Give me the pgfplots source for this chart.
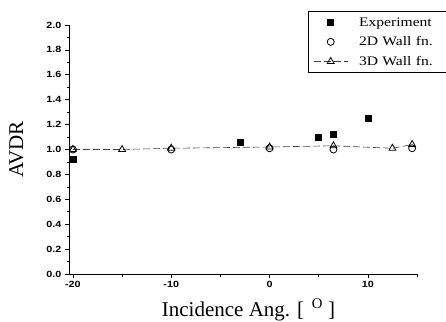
\documentclass[border=0pt]{standalone}
\usepackage{fontspec}
\setmainfont{Liberation Serif}
\newfontfamily\tickfont[FakeStretch=1.2]{Liberation Sans}
\newfontfamily\legfont[FakeStretch=1.2]{Liberation Serif}
\usepackage{pgfplots}
\pgfplotsset{compat=1.18}
\begin{document}
\begin{tikzpicture}
\begin{axis}[
  scale only axis,
  width=348pt, height=249pt,
  xmin=-20.4, xmax=15,
  ymin=0, ymax=2.0,
  axis lines=left,
  axis line style={-, line width=0.9pt},
  clip=false,
  xtick={-20,-10,0,10},
  xticklabels={-20,-10,0,10},
  minor xtick={-15,-5,5,15},
  ytick={0,0.2,0.4,0.6,0.8,1.0,1.2,1.4,1.6,1.8,2.0},
  yticklabels={0.0,0.2,0.4,0.6,0.8,1.0,1.2,1.4,1.6,1.8,2.0},
  minor y tick num=1,
  tick align=outside,
  major tick length=4pt,
  minor tick length=2.5pt,
  tick style={black, line width=0.7pt},
  tick label style={font=\tickfont\bfseries\fontsize{9}{10}\selectfont},
  xlabel={Incidence Ang. [ \textsuperscript{\,O} ]},
  ylabel={AVDR},
  xlabel style={font=\fontsize{21}{24}\selectfont, at={(axis description cs:0.516,-0.145)}, anchor=center},
  ylabel style={font=\fontsize{21}{24}\selectfont, at={(axis description cs:-0.151,0.5)}, anchor=center, rotate=0},
  legend style={at={(axis description cs:0.687,1.056)}, anchor=north west,
    draw=black, line width=0.7pt, fill=white,
    font=\legfont\fontsize{13}{15}\selectfont,
    inner xsep=5pt, inner ysep=4pt, row sep=5pt,
    /tikz/every odd column/.append style={column sep=9pt},
    text width=80pt},
  legend cell align=left,
  legend image code/.code={\draw[mark repeat=2,mark phase=2,#1] plot coordinates {(0pt,0pt)(17pt,0pt)(34pt,0pt)};},
]
\addplot[only marks, mark=square*, mark size=3pt, black] coordinates {
  (-20,0.92) (-3,1.06) (5,1.10) (6.5,1.12) (10,1.25)
};
\addlegendentry{Experiment}
\addplot[only marks, mark=o, mark size=3.5pt, black, mark options={line width=0.8pt}] coordinates {
  (-20,1.00) (-10,1.00) (0,1.01) (6.5,1.00) (14.5,1.01)
};
\addlegendentry{2D Wall fn.}
\addplot[black!75, line width=0.6pt, dash pattern=on 7pt off 3pt, mark=triangle, mark size=4pt, mark options={solid, black, line width=0.8pt}] coordinates {
  (-20,1.00) (-15,1.00) (-10,1.01) (0,1.02) (6.5,1.03) (12.5,1.01) (14.5,1.04)
};
\addlegendentry{3D Wall fn.}
\end{axis}
\pgfresetboundingbox
\path[use as bounding box] (-69pt,-47pt) rectangle (377pt,274pt);
\end{tikzpicture}
\end{document}
